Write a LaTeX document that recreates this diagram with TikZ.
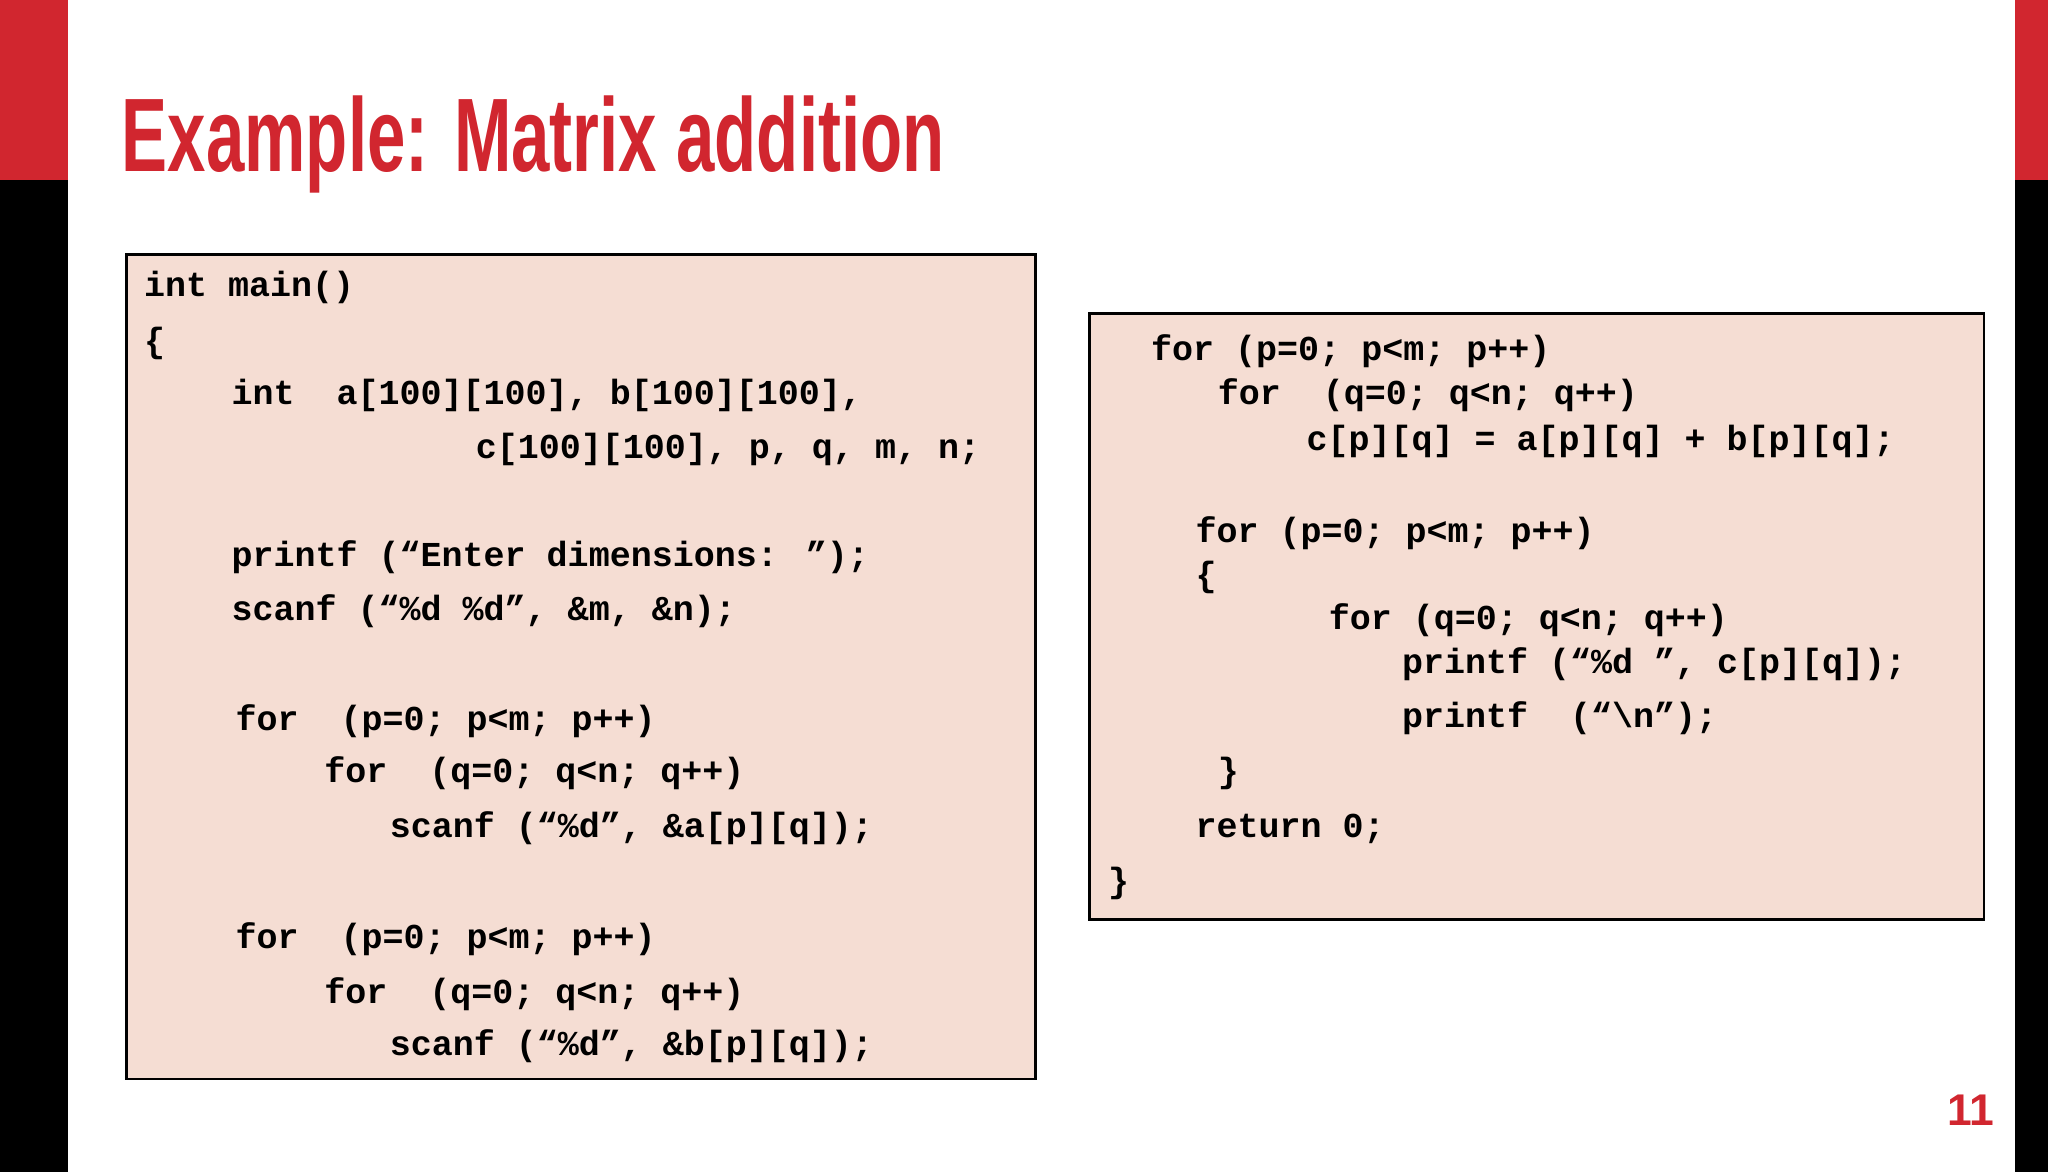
\documentclass[tikz,border=0pt]{standalone}
\usepackage{fontspec}
\setmainfont{Liberation Sans}
\newfontfamily\codefont{Liberation Mono}
\definecolor{slred}{HTML}{D1262F}
\definecolor{boxpink}{HTML}{F5DDD3}
\tikzset{code/.style={anchor=base west,inner sep=0pt,font=\codefont\bfseries\fontsize{13.4pt}{15pt}\selectfont},
cbox/.style={draw=black,line width=1pt,fill=boxpink}}
\begin{document}
\begin{tikzpicture}[x=0.5pt,y=-0.5pt]
\useasboundingbox (0,0) rectangle (1568,897);
\fill[white] (0,0) rectangle (1568,897);
\fill[slred] (0,0) rectangle (52,138);
\fill[black] (0,138) rectangle (52,897);
\fill[slred] (1543,0) rectangle (1568,138);
\fill[black] (1543,138) rectangle (1568,897);
\node[anchor=base west,inner sep=0pt,text=slred] (title) at (93,131) {\scalebox{0.66}[1]{\fontsize{40pt}{44pt}\selectfont\bfseries Example: Matrix addition}};
\node[anchor=base east,inner sep=0pt,text=slred,font=\bfseries\fontsize{17pt}{19pt}\selectfont] (pg) at (1527,862) {11};
\draw[cbox] (97,195) rectangle (793,826);
\draw[cbox] (834,240) rectangle (1519,704);
% left code
\node[code] (l1) at (110,227) {int main()};
\node[code] (l2) at (110,270) {\{};
\node[code] (l3) at (177,310) {int\ \ a[100][100], b[100][100],};
\node[code] (l4) at (364,351) {c[100][100], p, q, m, n;};
\node[code] (l5) at (177,434) {printf (“Enter dimensions: ”);};
\node[code] (l6) at (177,475) {scanf (“\%d \%d”, \&m, \&n);};
\node[code] (l7) at (180,559) {for\ \ (p=0; p<m; p++)};
\node[code] (l8) at (248,599) {for\ \ (q=0; q<n; q++)};
\node[code] (l9) at (298,641) {scanf (“\%d”, \&a[p][q]);};
\node[code] (l10) at (180,726) {for\ \ (p=0; p<m; p++)};
\node[code] (l11) at (248,768) {for\ \ (q=0; q<n; q++)};
\node[code] (l12) at (298,808) {scanf (“\%d”, \&b[p][q]);};
% right code
\node[code] (r1) at (881,276) {for (p=0; p<m; p++)};
\node[code] (r2) at (932,310) {for\ \ (q=0; q<n; q++)};
\node[code] (r3) at (1000,345) {c[p][q] = a[p][q] + b[p][q];};
\node[code] (r4) at (915,415) {for (p=0; p<m; p++)};
\node[code] (r5) at (915,449) {\{};
\node[code] (r6) at (1017,482) {for (q=0; q<n; q++)};
\node[code] (r7) at (1073,516) {printf (“\%d ”, c[p][q]);};
\node[code] (r8) at (1073,557) {printf\ \ (“\textbackslash n”);};
\node[code] (r9) at (932,599) {\}};
\node[code] (r10) at (915,641) {return 0;};
\node[code] (r11) at (848,683) {\}};
\end{tikzpicture}
\end{document}
